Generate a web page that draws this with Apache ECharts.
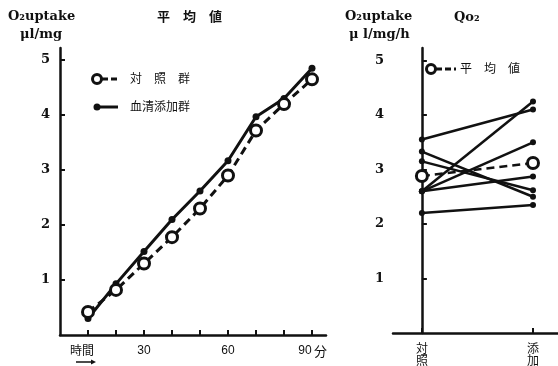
<!DOCTYPE html>
<html>
<head>
<meta charset="utf-8">
<script src="https://cdn.jsdelivr.net/npm/echarts@6/dist/echarts.min.js"></script>
<style>
  html, body { margin: 0; padding: 0; background: #fff; }
  #main { width: 558px; height: 366px; }
</style>
</head>
<body>
<div id="main"></div>
<script>
// 左: 平均値 (時間経過)
var times = [10, 20, 30, 40, 50, 60, 70, 80, 90];
var control = [0.42, 0.82, 1.3, 1.78, 2.3, 2.9, 3.72, 4.2, 4.65];   // 対照群
var serum = [0.3, 0.93, 1.52, 2.1, 2.62, 3.17, 3.97, 4.3, 4.85];    // 血清添加群
var xTicks = [10, 20, 30, 40, 50, 60, 70, 80, 90];
var xLabels = [30, 60, 90];
var yLabels = [1, 2, 3, 4, 5];

// 右: Qo2 (対照 → 添加)
var qCats = ['対\n照', '添\n加'];
var qBefore = [3.55, 3.33, 3.15, 2.6, 2.6, 2.6, 2.2];
var qAfter = [4.1, 2.5, 2.62, 4.25, 3.5, 2.87, 2.35];
var qMean = [2.88, 3.12];

var serif = '"DejaVu Serif", "Liberation Serif", serif';
var cjk = '"Noto Sans CJK JP", sans-serif';

function pairs(xs, ys) {
    return xs.map(function (x, i) { return [x, ys[i]]; });
}

var axisLine = { show: true, lineStyle: { color: '#111', width: 2.5 } };
var tick = { show: true, inside: true, length: 5, lineStyle: { color: '#111', width: 2 } };
var numLabel = { color: '#111', fontFamily: serif, fontWeight: 'bold', fontSize: 13 };

var series = [
    {
        type: 'line', xAxisIndex: 0, yAxisIndex: 0,
        data: pairs(times, serum),
        symbol: 'circle', symbolSize: 7,
        itemStyle: { color: '#111' },
        lineStyle: { color: '#111', width: 3 },
        z: 3
    },
    {
        type: 'line', xAxisIndex: 0, yAxisIndex: 0,
        data: pairs(times, control),
        symbol: 'circle', symbolSize: 11,
        itemStyle: { color: '#fff', borderColor: '#111', borderWidth: 3 },
        lineStyle: { color: '#111', width: 3, type: [8, 5] },
        z: 4
    }
];

qBefore.forEach(function (v, i) {
    series.push({
        type: 'line', xAxisIndex: 1, yAxisIndex: 1,
        data: pairs([0, 1], [v, qAfter[i]]),
        symbol: 'circle', symbolSize: 6,
        itemStyle: { color: '#111' },
        lineStyle: { color: '#111', width: 2.5 },
        z: 3
    });
});
series.push({
    type: 'line', xAxisIndex: 1, yAxisIndex: 1,
    data: pairs([0, 1], qMean),
    symbol: 'circle', symbolSize: 11,
    itemStyle: { color: '#fff', borderColor: '#111', borderWidth: 3 },
    lineStyle: { color: '#111', width: 2.5, type: [8, 5] },
    z: 4
});

var myChart = echarts.init(document.getElementById('main'));
var option = {
    animation: false,
    backgroundColor: '#fff',
    grid: [
        { left: 60, top: 48, width: 266, height: 287 },
        { left: 393, top: 48, width: 165, height: 288 }
    ],
    xAxis: [
        {
            gridIndex: 0, type: 'value', min: 0, max: 95,
            axisLine: axisLine,
            axisTick: { show: true, inside: true, length: 5, lineStyle: { color: '#111', width: 2 }, customValues: xTicks },
            axisLabel: {
                customValues: xLabels, margin: 10, color: '#111', fontSize: 12,
                fontFamily: '"Liberation Sans", sans-serif',
                formatter: function (v) { return v === 90 ? '{r|90}' : String(v); },
                rich: { r: { padding: [0, 14, 0, 0], fontSize: 12, fontFamily: '"Liberation Sans", sans-serif', color: '#111' } }
            },
            splitLine: { show: false }
        },
        {
            gridIndex: 1, type: 'value', min: -0.26, max: 1.225,
            axisLine: axisLine,
            axisTick: { show: true, inside: true, length: 5, lineStyle: { color: '#111', width: 2 }, customValues: [0, 1] },
            axisLabel: {
                customValues: [0, 1], margin: 9, color: '#111', fontFamily: cjk, fontSize: 12, lineHeight: 12,
                formatter: function (v) { return qCats[Math.round(v)]; }
            },
            splitLine: { show: false }
        }
    ],
    yAxis: [
        {
            gridIndex: 0, type: 'value', min: 0, max: 5.22,
            axisLine: axisLine,
            axisTick: Object.assign({ customValues: yLabels }, tick),
            axisLabel: Object.assign({ customValues: yLabels, margin: 10 }, numLabel),
            splitLine: { show: false }
        },
        {
            gridIndex: 1, type: 'value', min: 0, max: 5.23,
            axisLine: axisLine,
            axisTick: Object.assign({ customValues: yLabels }, tick),
            axisLabel: Object.assign({ customValues: yLabels, margin: 9 }, numLabel),
            splitLine: { show: false }
        }
    ],
    series: series,
    graphic: [
        // 左 タイトル・軸名
        { type: 'text', left: 8, top: 10, style: { text: 'O₂uptake', font: 'bold 13px ' + serif, fill: '#111' } },
        { type: 'text', left: 20, top: 28, style: { text: 'μl/mg', font: 'bold 13px ' + serif, fill: '#111' } },
        { type: 'text', left: 157, top: 10, style: { text: '平　均　値', font: 'bold 13px ' + cjk, fill: '#111' } },
        { type: 'text', left: 314, top: 345, style: { text: '分', font: '13px ' + cjk, fill: '#111' } },
        { type: 'text', left: 70, top: 344, style: { text: '時間', font: '12px ' + cjk, fill: '#111' } },
        { type: 'line', shape: { x1: 76, y1: 362, x2: 94, y2: 362 }, style: { stroke: '#111', lineWidth: 1.5 } },
        { type: 'polygon', shape: { points: [[96, 362], [91, 359.5], [91, 364.5]] }, style: { fill: '#111' } },
        // 左 凡例
        { type: 'line', shape: { x1: 102, y1: 79, x2: 117, y2: 79 }, style: { stroke: '#111', lineWidth: 3, lineDash: [6, 3] } },
        { type: 'circle', shape: { cx: 97, cy: 79, r: 4.5 }, style: { fill: '#fff', stroke: '#111', lineWidth: 3 } },
        { type: 'text', left: 130, top: 72, style: { text: '対　照　群', font: '12px ' + cjk, fill: '#111' } },
        { type: 'line', shape: { x1: 97, y1: 107, x2: 118, y2: 107 }, style: { stroke: '#111', lineWidth: 3 } },
        { type: 'circle', shape: { cx: 97, cy: 107, r: 3.5 }, style: { fill: '#111' } },
        { type: 'text', left: 130, top: 100, style: { text: '血清添加群', font: '12px ' + cjk, fill: '#111' } },
        // 右 タイトル・軸名
        { type: 'text', left: 345, top: 10, style: { text: 'O₂uptake', font: 'bold 13px ' + serif, fill: '#111' } },
        { type: 'text', left: 349, top: 28, style: { text: 'μ l/mg/h', font: 'bold 13px ' + serif, fill: '#111' } },
        { type: 'text', left: 454, top: 11, style: { text: 'Qo₂', font: 'bold 13px ' + serif, fill: '#111' } },
        // 右 凡例
        { type: 'line', shape: { x1: 436, y1: 69, x2: 456, y2: 69 }, style: { stroke: '#111', lineWidth: 3, lineDash: [6, 3] } },
        { type: 'circle', shape: { cx: 431, cy: 69, r: 4.5 }, style: { fill: '#fff', stroke: '#111', lineWidth: 3 } },
        { type: 'text', left: 460, top: 62, style: { text: '平　均　値', font: '12px ' + cjk, fill: '#111' } }
    ]
};
myChart.setOption(option);
</script>
</body>
</html>
